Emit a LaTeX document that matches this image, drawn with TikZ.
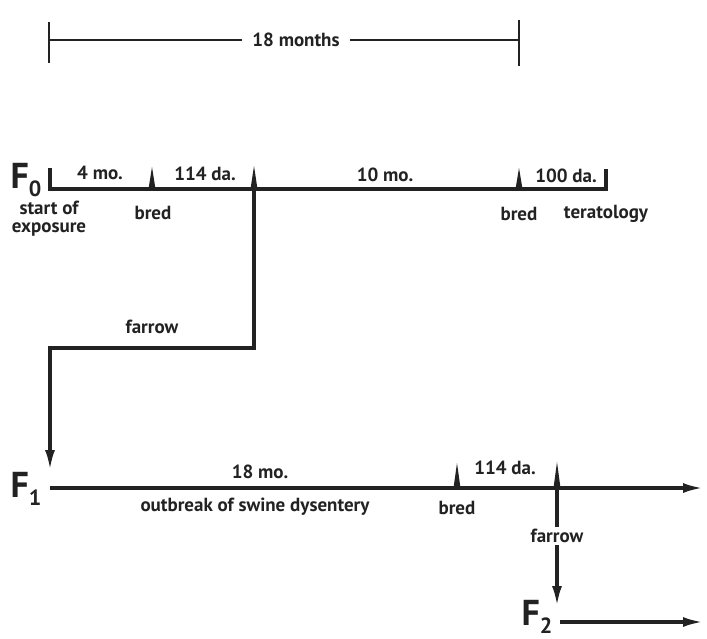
\documentclass[tikz,border=0pt]{standalone}
\usepackage{fontspec}
\setmainfont{PT Sans}
\usetikzlibrary{arrows.meta,positioning,calc}
\definecolor{InkGray}{HTML}{222222}

\tikzset{
  timeline/.style={line width=1.6pt, InkGray},
  spanline/.style={line width=1pt, InkGray},
  lbl/.style={font=\fontsize{9.5}{11}\bfseries\selectfont, text=InkGray, inner sep=1pt},
  gen/.style={font=\fontsize{18}{18}\bfseries\selectfont, text=InkGray, inner sep=0pt},
  bigarrow/.style={-{Latex[length=10pt,width=5pt]}},
}
\newcommand{\genlabel}[1]{F\raisebox{-4pt}{\fontsize{11}{11}\selectfont #1}}

\begin{document}
\begin{tikzpicture}[x=0.5pt, y=-0.5pt]
\useasboundingbox (0,0) rectangle (707,638);

% Span of 18 months
\coordinate (spanL) at (49,40);
\coordinate (spanR) at (519,40);
\node[lbl, inner xsep=5pt] (span) at (296,40) {18 months};
\draw[spanline] (spanL) -- (span.west);
\draw[spanline] (span.east) -- (spanR);
\draw[spanline] ($(spanL)+(0,-18)$) -- ($(spanL)+(0,23)$);
\draw[spanline] ($(spanR)+(0,-20)$) -- ($(spanR)+(0,26)$);

% F0 time line
\coordinate (f0start) at (50,189);
\coordinate (f0bredA) at (152,189);
\coordinate (f0farrow) at (254,189);
\coordinate (f0bredB) at (519,189);
\coordinate (f0end) at (606,189);
\draw[timeline] ($(f0start)+(0,-21)$) -- (f0start) -- (f0end) -- ($(f0end)+(0,-20)$);

% Farrow down to F1
\coordinate (turnA) at (254,348);
\coordinate (turnB) at (50,348);
\coordinate (f1top) at (50,470);
\draw[timeline, bigarrow] (f0farrow) -- (turnA) -- (turnB) -- (f1top);

% F1 time line
\coordinate (f1start) at (50,488);
\coordinate (f1bred) at (457,488);
\coordinate (f1farrow) at (557,488);
\coordinate (f1end) at (703,488);
\draw[timeline, bigarrow] (f1start) -- (f1end);

% Farrow down to F2
\node[lbl] (farrowB) at (557,536) {farrow};
\coordinate (f2top) at (557,606);
\draw[timeline] (f1farrow) -- (farrowB.north);
\draw[timeline, bigarrow] (farrowB.south) -- (f2top);

% F2 time line
\coordinate (f2start) at (560,622);
\coordinate (f2end) at (703,622);
\draw[timeline, bigarrow] (f2start) -- (f2end);

% Spikes for bred / farrow
\foreach \t/\h in {f0bredA/22, f0farrow/23, f0bredB/21, f1bred/25, f1farrow/26}
{
  \fill[InkGray] (\t) ++(-3.5,0) -- ++(3.5,-\h) -- ++(3.5,\h) -- cycle;
}

% Generation labels
\node[gen] (F0) at (26,180) {\genlabel{0}};
\node[gen] (F1) at (26,489) {\genlabel{1}};
\node[gen] (F2) at (537,617) {\genlabel{2}};

% Labels above the lines
\node[lbl] (moA) at (100,173) {4 mo.};
\node[lbl] (daA) at (205,174) {114 da.};
\node[lbl] (moB) at (385,175) {10 mo.};
\node[lbl] (daB) at (566,176) {100 da.};
\node[lbl] (moC) at (260,472) {18 mo.};
\node[lbl] (daC) at (505,468) {114 da.};

% Labels below the lines
\node[lbl, align=center] (start) at (49,219) {start of\\[-2pt]exposure};
\node[lbl] (bredA) at (153,213) {bred};
\node[lbl] (bredB) at (519,214) {bred};
\node[lbl] (terat) at (606,214) {teratology};
\node[lbl] (farrowA) at (152,327) {farrow};
\node[lbl] (outbreak) at (255,507) {outbreak of swine dysentery};
\node[lbl] (bredC) at (457,508) {bred};

\end{tikzpicture}
\end{document}
